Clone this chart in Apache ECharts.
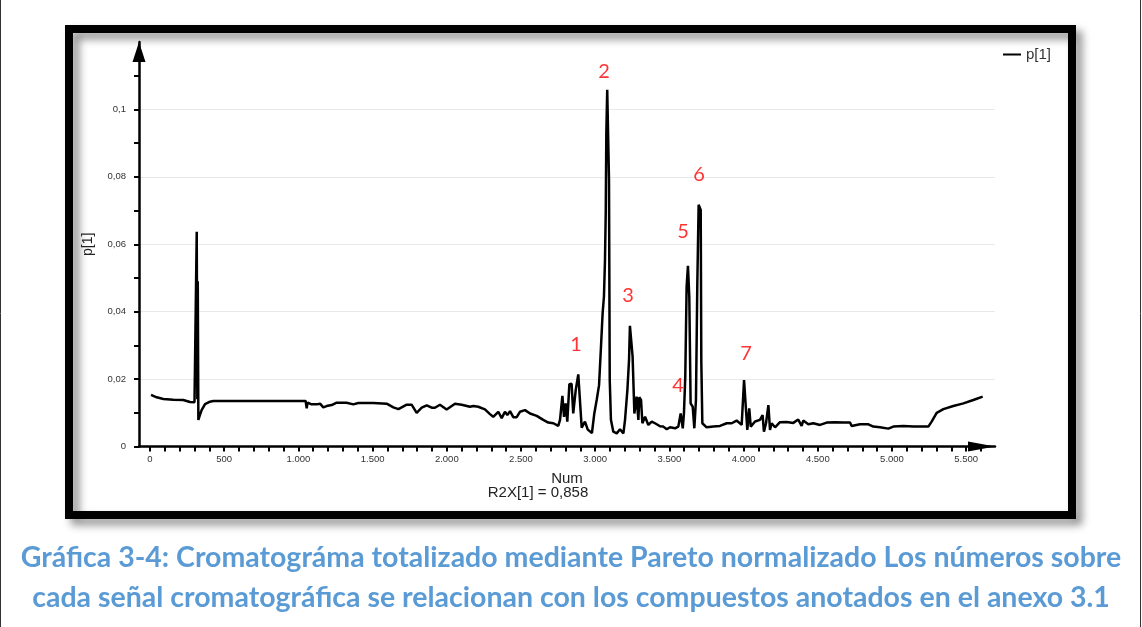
<!DOCTYPE html>
<html>
<head>
<meta charset="utf-8">
<script src="https://cdn.jsdelivr.net/npm/echarts@6/dist/echarts.min.js"></script>
<style>
html,body{margin:0;padding:0;background:#fff;}
#chart{width:1142px;height:627px;}
</style>
</head>
<body>
<div id="chart"></div>
<script>
// ---- data ----
const nums = [7,45,90,157,224,270,300,312,315,319,322,326,330,340,348,371,404,427,1049,1056,1062,1075,1089,1123,1146,1168,1190,1224,1258,1325,1370,1404,1505,1595,1640,1674,1685,1730,1763,1797,1831,1865,1898,1920,1954,1999,2055,2100,2156,2179,2212,2257,2291,2313,2347,2370,2392,2408,2426,2448,2471,2493,2527,2561,2606,2650,2684,2718,2751,2763,2779,2790,2801,2812,2826,2841,2852,2869,2886,2898,2909,2931,2950,2978,2994,3010,3026,3039,3050,3059,3066,3071,3075,3081,3088,3093,3098,3106,3122,3145,3167,3190,3201,3217,3228,3234,3246,3252,3264,3279,3291,3297,3309,3318,3336,3358,3381,3403,3437,3459,3482,3504,3538,3560,3576,3590,3598,3607,3616,3625,3634,3643,3657,3668,3679,3688,3697,3711,3715,3722,3751,3796,3841,3886,3920,3953,3987,4003,4016,4025,4038,4048,4077,4110,4128,4137,4151,4167,4178,4189,4212,4245,4290,4335,4368,4380,4391,4402,4436,4470,4515,4560,4616,4672,4717,4728,4784,4841,4874,4919,4975,5009,5076,5144,5211,5245,5267,5301,5346,5413,5481,5548,5611];
const pValues = [0.0153,0.0146,0.0141,0.0139,0.0138,0.0132,0.0131,0.0133,0.0637,0.0140,0.0490,0.0079,0.0081,0.0098,0.0108,0.0126,0.0133,0.0135,0.0135,0.0113,0.0130,0.0127,0.0125,0.0125,0.0127,0.0116,0.0120,0.0123,0.0130,0.0130,0.0125,0.0129,0.0129,0.0127,0.0116,0.0111,0.0116,0.0124,0.0124,0.0100,0.0115,0.0122,0.0115,0.0115,0.0124,0.0110,0.0127,0.0124,0.0118,0.0120,0.0118,0.0110,0.0096,0.0088,0.0103,0.0084,0.0103,0.0093,0.0105,0.0087,0.0087,0.0103,0.0108,0.0098,0.0091,0.0079,0.0071,0.0069,0.0061,0.0079,0.0150,0.0088,0.0128,0.0074,0.0185,0.0186,0.0098,0.0168,0.0214,0.0214,0.0056,0.0074,0.0050,0.0040,0.0098,0.0138,0.0182,0.0296,0.0395,0.0445,0.0553,0.0692,0.0929,0.1058,0.1058,0.0791,0.0197,0.0079,0.0044,0.0039,0.0051,0.0039,0.0079,0.0168,0.0257,0.0358,0.0356,0.0267,0.0098,0.0148,0.0079,0.0146,0.0138,0.0069,0.0088,0.0064,0.0074,0.0069,0.0060,0.0059,0.0051,0.0057,0.0054,0.0059,0.0098,0.0054,0.0098,0.0207,0.0474,0.0536,0.0445,0.0128,0.0118,0.0054,0.0138,0.0479,0.0717,0.0702,0.0252,0.0069,0.0057,0.0059,0.0061,0.0069,0.0069,0.0077,0.0064,0.0197,0.0202,0.0049,0.0113,0.0059,0.0074,0.0079,0.0093,0.0044,0.0069,0.0123,0.0049,0.0069,0.0057,0.0072,0.0073,0.0070,0.0080,0.0081,0.0061,0.0077,0.0066,0.0069,0.0064,0.0071,0.0072,0.0071,0.0071,0.0061,0.0066,0.0066,0.0059,0.0057,0.0053,0.0059,0.0061,0.0059,0.0059,0.0059,0.0074,0.0100,0.0111,0.0120,0.0128,0.0138,0.0148];

// peak annotations (label, position in data space)
const annotLabels = ['1','2','3','4','5','6','7'];
const annotX = [2871,3059,3221,3558,3592,3700,4016];
const annotY = [0.0301,0.1111,0.0447,0.0180,0.0637,0.0806,0.0277];

// axis ticks / labels
const xLabelValues = [0,500,1000,1500,2000,2500,3000,3500,4000,4500,5000,5500];
const yLabelValues = [0,0.02,0.04,0.06,0.08,0.1];
const yTickValues = [0,0.01,0.02,0.03,0.04,0.05,0.06,0.07,0.08,0.09,0.1,0.11];
const xTickValues = [];
for (let v = 0; v <= 5600; v += 100) xTickValues.push(v);

const X_MIN = -74, X_MAX = 5694, Y_MAX = 0.12;

const seriesName = 'p[1]';
const r2xText = 'R2X[1] = 0,858';
const captionLines = [
  'Gráfica 3-4: Cromatográma totalizado mediante Pareto normalizado Los números sobre',
  'cada señal cromatográfica se relacionan con los compuestos anotados en el anexo 3.1'
];

// ---- build ----
const lineData = nums.map((n, i) => [n, pValues[i]]);
const annotData = annotX.map((x, i) => [x, annotY[i]]);

function fmtX(v) {
  if (v >= 1000) return Math.floor(v / 1000) + '.' + String(v % 1000).padStart(3, '0');
  return String(v);
}
function fmtY(v) {
  if (v === 0) return '0';
  return String(+v.toFixed(2)).replace('.', ',');
}

const FONT = 'Liberation Sans, Arial, sans-serif';
const chart = echarts.init(document.getElementById('chart'), null, {renderer: 'canvas'});
chart.setOption({
  animation: false,
  backgroundColor: '#fff',
  grid: {left: 139, top: 42, width: 856, height: 404.5},
  legend: {
    data: [seriesName],
    left: 998, top: 42,
    icon: 'rect', itemWidth: 18, itemHeight: 2, itemGap: 6,
    textStyle: {color: '#333', fontSize: 15, fontFamily: FONT}
  },
  xAxis: {
    type: 'value', min: X_MIN, max: X_MAX,
    name: 'Num', nameLocation: 'middle', nameGap: 25,
    nameTextStyle: {color: '#222', fontSize: 15, fontFamily: FONT},
    axisLine: {show: true, onZero: false, symbol: ['none', 'triangle'], symbolSize: [10, 27], symbolOffset: [0, -13.5],
      lineStyle: {color: '#000', width: 2.5}},
    axisTick: {show: true, customValues: xTickValues, length: 5, lineStyle: {color: '#000', width: 2}},
    axisLabel: {customValues: xLabelValues, formatter: fmtX, color: '#333', fontSize: 9.5, fontFamily: FONT, margin: 8},
    splitLine: {show: false}
  },
  yAxis: [{
    type: 'value', min: 0, max: Y_MAX,
    name: 'p[1]', nameLocation: 'middle', nameGap: 44, nameRotate: 90,
    nameTextStyle: {color: '#222', fontSize: 14, fontFamily: FONT},
    axisLine: {show: true, onZero: false, symbol: ['none', 'triangle'], symbolSize: [13, 20], symbolOffset: [0, -10],
      lineStyle: {color: '#000', width: 2.5}},
    axisTick: {show: true, customValues: yTickValues, length: 5, lineStyle: {color: '#000', width: 2}},
    axisLabel: {customValues: yLabelValues, formatter: fmtY, color: '#333', fontSize: 9.5, fontFamily: FONT, margin: 13},
    splitLine: {show: false}
  }, {
    type: 'value', min: 0, max: Y_MAX, interval: 0.02,
    axisLine: {show: false, onZero: false}, axisTick: {show: false}, axisLabel: {show: false},
    splitLine: {show: true, showMinLine: false, showMaxLine: false, lineStyle: {color: '#e8e8e8', width: 1}}
  }],
  series: [{
    name: seriesName, type: 'line', yAxisIndex: 0,
    data: lineData, showSymbol: false, symbol: 'none',
    lineStyle: {color: '#000', width: 2.5}, itemStyle: {color: '#000'},
    z: 3
  }, {
    name: 'annot', type: 'scatter', yAxisIndex: 0,
    data: annotData, symbolSize: 0, silent: true,
    label: {show: true, position: 'inside', formatter: p => annotLabels[p.dataIndex],
      color: '#ff0000', fontSize: 20, fontFamily: 'Lato, sans-serif'},
    z: 4
  }],
  graphic: [
    {type: 'rect', z: -10, shape: {x: 69, y: 29, width: 1003, height: 486},
      style: {fill: 'none', stroke: '#000', lineWidth: 8, shadowBlur: 8, shadowOffsetX: 6, shadowOffsetY: 6, shadowColor: 'rgba(0,0,0,0.45)'}},
    {type: 'line', shape: {x1: 0.5, y1: 0, x2: 0.5, y2: 627}, style: {stroke: '#333', lineWidth: 1}},
    {type: 'line', shape: {x1: 1140.5, y1: 0, x2: 1140.5, y2: 627}, style: {stroke: '#333', lineWidth: 1}},
    {type: 'text', style: {text: r2xText, x: 538, y: 493, align: 'center', verticalAlign: 'middle',
      font: '15px Liberation Sans, Arial, sans-serif', fill: '#222'}},
    {type: 'text', style: {text: captionLines[0], x: 571, y: 558, align: 'center', verticalAlign: 'middle',
      font: 'bold 28.5px Lato, sans-serif', fill: '#5b9bd5'}},
    {type: 'text', style: {text: captionLines[1], x: 571, y: 598, align: 'center', verticalAlign: 'middle',
      font: 'bold 28.5px Lato, sans-serif', fill: '#5b9bd5'}}
  ]
});
</script>
</body>
</html>
